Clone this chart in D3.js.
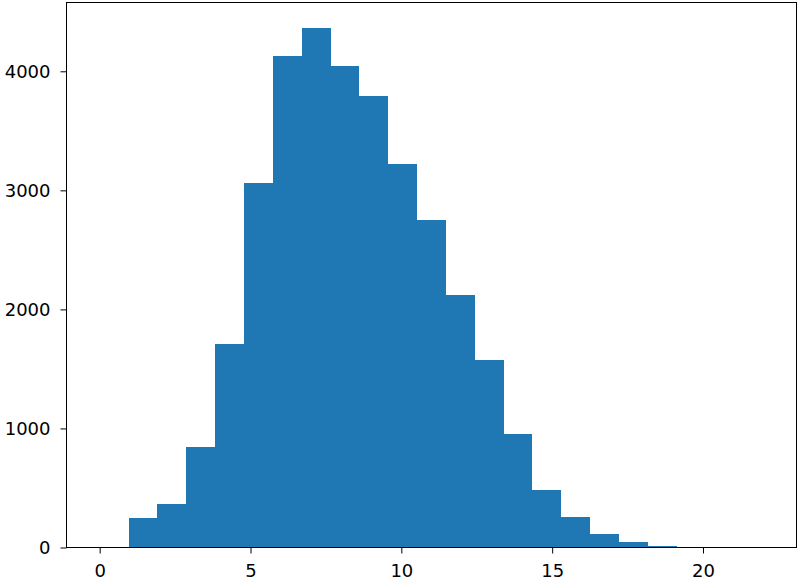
<!DOCTYPE html>
<html>
<head>
<meta charset="utf-8">
<script src="https://cdn.jsdelivr.net/npm/d3@7"></script>
<style>
  body { margin: 0; background: #fff; }
  svg { display: block; }
  .tick text { font-family: "DejaVu Sans", sans-serif; font-size: 18px; fill: #000; }
</style>
</head>
<body>
<div id="chart"></div>
<script>
// histogram data
const dataMin = 0, dataMax = 22;
const counts = [0, 246, 369, 842, 1710, 3060, 4128, 4360, 4041, 3789, 3222, 2751,
                2118, 1573, 955, 481, 260, 112, 48, 11, 2, 1, 1];
const xTicks = [0, 5, 10, 15, 20];
const yTicks = [0, 1000, 2000, 3000, 4000];

const width = 800, height = 580;
const plotLeft = 66.5, plotRight = 796.5, plotTop = 2.5, plotBottom = 547.5;

// bin edges like np.linspace(min, max, n+1)
const binW = (dataMax - dataMin) / counts.length;
const bins = counts.map((c, i) => ({ x0: dataMin + i * binW, x1: dataMin + (i + 1) * binW, n: c }));

const span = dataMax - dataMin;
const x = d3.scaleLinear()
    .domain([dataMin - 0.05 * span, dataMax + 0.05 * span])
    .range([plotLeft, plotRight]);
const y = d3.scaleLinear()
    .domain([0, d3.max(counts) * 1.05])
    .range([plotBottom, plotTop]);

const svg = d3.select("#chart").append("svg")
    .attr("width", width)
    .attr("height", height);

// crispEdges so neighbouring bars don't show seams
svg.append("g")
    .attr("shape-rendering", "crispEdges")
    .selectAll("rect")
    .data(bins)
    .enter().append("rect")
    .attr("x", d => x(d.x0))
    .attr("width", d => x(d.x1) - x(d.x0))
    .attr("y", d => y(d.n))
    .attr("height", d => y(0) - y(d.n))
    .attr("fill", "#1f77b4");

const xAxis = svg.append("g")
    .attr("transform", `translate(0,${plotBottom})`)
    .call(d3.axisBottom(x).tickValues(xTicks).tickFormat(d3.format("d")).tickSize(6).tickPadding(10.5));
const yAxis = svg.append("g")
    .attr("transform", `translate(${plotLeft},0)`)
    .call(d3.axisLeft(y).tickValues(yTicks).tickFormat(d3.format("d")).tickSize(6).tickPadding(10));

[xAxis, yAxis].forEach(a => {
    a.select(".domain").remove();
    a.attr("font-family", null).attr("font-size", null);
    a.selectAll(".tick line").attr("stroke", "#000").attr("stroke-width", 1);
});

// axes frame
svg.append("rect")
    .attr("x", plotLeft).attr("y", plotTop)
    .attr("width", plotRight - plotLeft).attr("height", plotBottom - plotTop)
    .attr("fill", "none")
    .attr("stroke", "#000")
    .attr("stroke-width", 1);
</script>
</body>
</html>
